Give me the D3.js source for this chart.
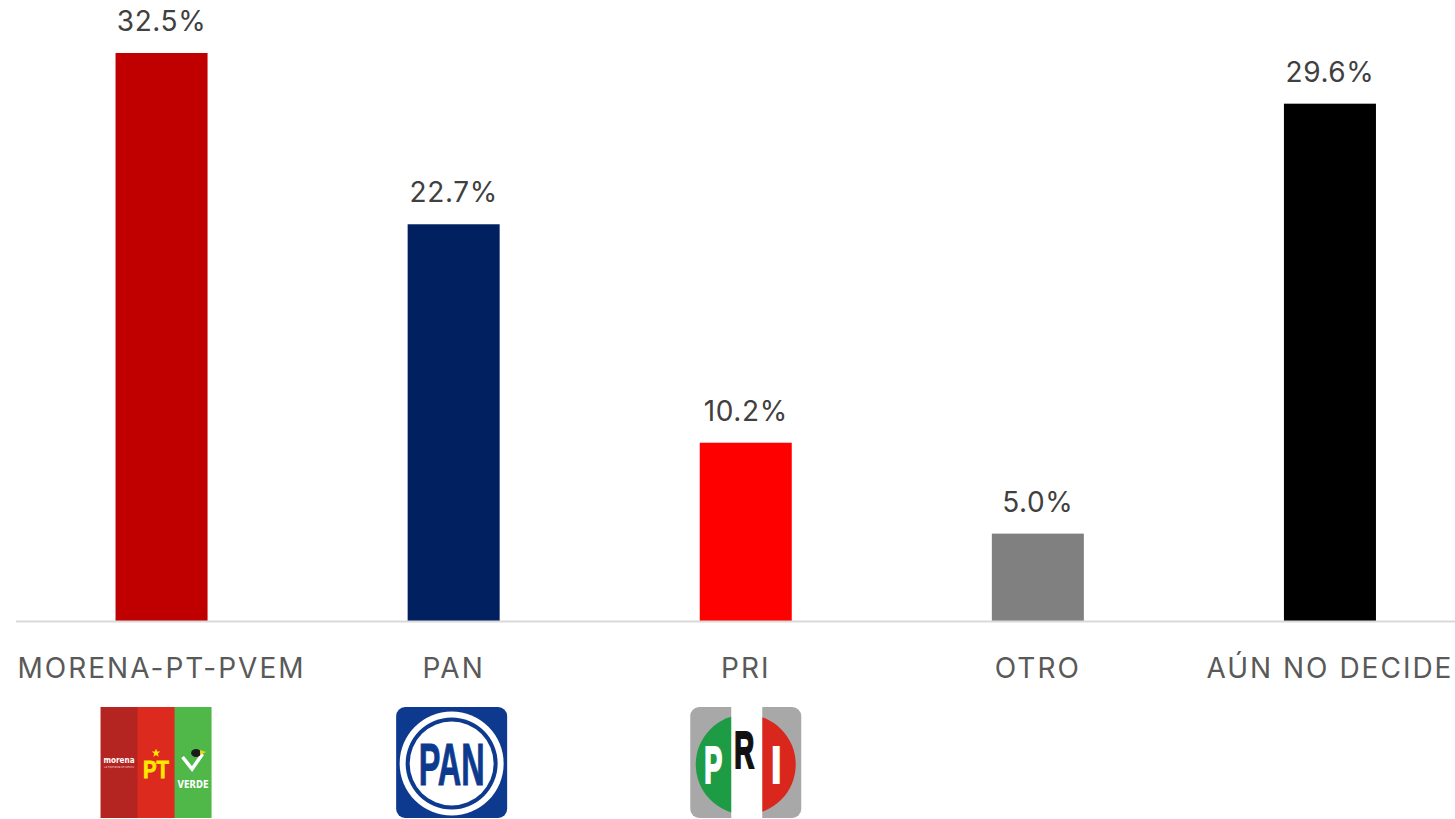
<!DOCTYPE html>
<html>
<head>
<meta charset="utf-8">
<script src="https://cdn.jsdelivr.net/npm/d3@7"></script>
<style>
  body { margin: 0; background: #fff; overflow: hidden; }
  text { font-family: "Inter", "Lato", sans-serif; }
</style>
</head>
<body>
<div id="chart"></div>
<script>
var categories = ['MORENA-PT-PVEM', 'PAN', 'PRI', 'OTRO', 'AÚN NO DECIDE'];
var values = [32.5, 22.7, 10.2, 5.0, 29.6];
var barColors = ['#c00000', '#002060', '#ff0000', '#808080', '#000000'];
var logos = ['morena', 'pan', 'pri', null, null];

var width = 1455,
    height = 819;

var svg = d3.select('#chart')
    .append('svg')
        .attr('width', width)
        .attr('height', height);

var x = d3.scaleBand()
    .domain(categories)
    .range([15.5, 1476])
    .paddingInner(0.685)
    .paddingOuter(0.3425);

var y = d3.scaleLinear()
    .domain([0, 32.5])
    .range([621, 53]);

// bars
svg.selectAll('rect.bar')
    .data(values)
    .enter()
    .append('rect')
        .attr('class', 'bar')
        .attr('x', function (d, i) { return x(categories[i]); })
        .attr('y', function (d) { return y(d); })
        .attr('width', x.bandwidth())
        .attr('height', function (d) { return y(0) - y(d); })
        .attr('fill', function (d, i) { return barColors[i]; });

// axis line
svg.append('line')
    .attr('x1', 16).attr('x2', width)
    .attr('y1', y(0) + 0.5).attr('y2', y(0) + 0.5)
    .attr('stroke', '#d9d9d9')
    .attr('stroke-width', 2);

// value labels
svg.selectAll('text.val')
    .data(values)
    .enter()
    .append('text')
        .attr('class', 'val')
        .attr('x', function (d, i) { return x(categories[i]) + x.bandwidth() / 2; })
        .attr('y', function (d) { return y(d) - 22; })
        .attr('text-anchor', 'middle')
        .attr('font-size', 28)
        .attr('letter-spacing', 0.6)
        .attr('fill', '#404040')
        .text(function (d) { return d.toFixed(1) + '%'; });

// category labels
svg.selectAll('text.cat')
    .data(categories)
    .enter()
    .append('text')
        .attr('class', 'cat')
        .attr('x', function (d) { return x(d) + x.bandwidth() / 2; })
        .attr('y', 678)
        .attr('text-anchor', 'middle')
        .attr('font-size', 28)
        .attr('letter-spacing', 2)
        .attr('fill', '#595959')
        .text(function (d) { return d; });

// logos (drawn as shapes)
var logoSize = 111;
var logoShift = [-5.5, -2, 0, 0, 0];
categories.forEach(function (c, i) {
    if (!logos[i]) return;
    var cx = x(c) + x.bandwidth() / 2 + logoShift[i];
    var g = svg.append('g')
        .attr('transform', 'translate(' + (cx - logoSize / 2) + ',707)');
    if (logos[i] === 'morena') drawMorena(g);
    if (logos[i] === 'pan') drawPan(g);
    if (logos[i] === 'pri') drawPri(g);
});

function starPath(cx, cy, R) {
    var pts = [];
    for (var k = 0; k < 10; k++) {
        var a = -Math.PI / 2 + k * Math.PI / 5,
            rr = k % 2 ? R * 0.42 : R;
        pts.push([cx + rr * Math.cos(a), cy + rr * Math.sin(a)]);
    }
    return 'M' + pts.join('L') + 'Z';
}

function drawMorena(g) {
    var w = logoSize / 3;
    g.append('rect').attr('x', 0).attr('width', w + 0.5).attr('height', logoSize).attr('fill', '#b42420');
    g.append('rect').attr('x', w).attr('width', w + 0.5).attr('height', logoSize).attr('fill', '#dc2a1e');
    g.append('rect').attr('x', 2 * w).attr('width', w).attr('height', logoSize).attr('fill', '#4fb848');
    g.append('text').attr('x', w / 2).attr('y', 56).attr('text-anchor', 'middle')
        .attr('font-size', 9).attr('font-weight', 'bold').attr('fill', '#fff')
        .attr('textLength', 31).attr('lengthAdjust', 'spacingAndGlyphs')
        .style('font-family', 'DejaVu Sans').text('morena');
    g.append('text').attr('x', w / 2).attr('y', 61).attr('text-anchor', 'middle')
        .attr('font-size', 2.5).attr('fill', '#f3c9c9')
        .attr('textLength', 30).attr('lengthAdjust', 'spacingAndGlyphs')
        .text('La esperanza de México');
    g.append('path').attr('d', starPath(w * 1.5, 46, 4.5)).attr('fill', '#ffe800');
    g.append('text').attr('x', w * 1.5).attr('y', 71).attr('text-anchor', 'middle')
        .attr('font-size', 24).attr('font-weight', 'bold').attr('fill', '#ffe800')
        .attr('stroke', '#ffe800').attr('stroke-width', 0.8)
        .attr('textLength', 26).attr('lengthAdjust', 'spacingAndGlyphs')
        .style('font-family', 'Liberation Sans Narrow, Liberation Sans').text('PT');
    g.append('path')
        .attr('d', 'M' + (w * 2 + 8) + ',50 L' + (w * 2.5 - 1) + ',62 L' + (w * 3 - 9) + ',47')
        .attr('fill', 'none').attr('stroke', '#fff').attr('stroke-width', 3.5);
    g.append('ellipse').attr('cx', w * 2.5 + 3).attr('cy', 46).attr('rx', 5).attr('ry', 4).attr('fill', '#1a1a1a');
    g.append('path')
        .attr('d', 'M' + (w * 2.5 + 7) + ',43 l6,2 l-6,3 z').attr('fill', '#f6d21a');
    g.append('text').attr('x', w * 2.5).attr('y', 81).attr('text-anchor', 'middle')
        .attr('font-size', 11).attr('font-weight', 'bold').attr('fill', '#fff')
        .attr('textLength', 31).attr('lengthAdjust', 'spacingAndGlyphs')
        .style('font-family', 'DejaVu Sans Condensed, DejaVu Sans').text('VERDE');
}

function drawPan(g) {
    var s = logoSize;
    g.append('rect').attr('width', s).attr('height', s).attr('rx', 9).attr('fill', '#0d3a8e');
    g.append('circle').attr('cx', s / 2).attr('cy', s / 2 + 1).attr('r', 52).attr('fill', '#fff');
    g.append('circle').attr('cx', s / 2).attr('cy', s / 2 + 1).attr('r', 46).attr('fill', '#0d3a8e');
    g.append('circle').attr('cx', s / 2).attr('cy', s / 2 + 1).attr('r', 42).attr('fill', '#fff');
    g.append('text').attr('x', s / 2).attr('y', 78).attr('text-anchor', 'middle')
        .attr('font-size', 60).attr('font-weight', 'bold').attr('fill', '#0d3a8e')
        .attr('stroke', '#0d3a8e').attr('stroke-width', 1)
        .attr('textLength', 66).attr('lengthAdjust', 'spacingAndGlyphs')
        .style('font-family', 'Liberation Sans Narrow, Liberation Sans').text('PAN');
}

function drawPri(g) {
    var s = logoSize;
    var r = 50, cx = s / 2, cy = s / 2 + 2;
    g.append('rect').attr('width', s).attr('height', s).attr('rx', 9).attr('fill', '#a8a8a8');
    var clip = g.append('clipPath').attr('id', 'pri-clip');
    clip.append('circle').attr('cx', cx).attr('cy', cy).attr('r', r);
    var inner = g.append('g').attr('clip-path', 'url(#pri-clip)');
    inner.append('rect').attr('x', 0).attr('y', 0).attr('width', cx).attr('height', s).attr('fill', '#1e9b45');
    inner.append('rect').attr('x', cx).attr('y', 0).attr('width', cx).attr('height', s).attr('fill', '#d9271e');
    g.append('rect').attr('x', 41).attr('y', 0).attr('width', 31).attr('height', s).attr('fill', '#fff');
    var letters = [['P', 23, 76, 18, '#fff'], ['R', 54, 61, 20, '#111'], ['I', 86, 76, 10, '#fff']];
    letters.forEach(function (l) {
        g.append('text').attr('x', l[1]).attr('y', l[2]).attr('text-anchor', 'middle')
            .attr('font-size', 51).attr('font-weight', 'bold').attr('fill', l[4])
            .attr('stroke', l[4]).attr('stroke-width', 2.2)
            .attr('textLength', l[3]).attr('lengthAdjust', 'spacingAndGlyphs')
            .style('font-family', 'Liberation Sans Narrow, Liberation Sans').text(l[0]);
    });
}
</script>
</body>
</html>
